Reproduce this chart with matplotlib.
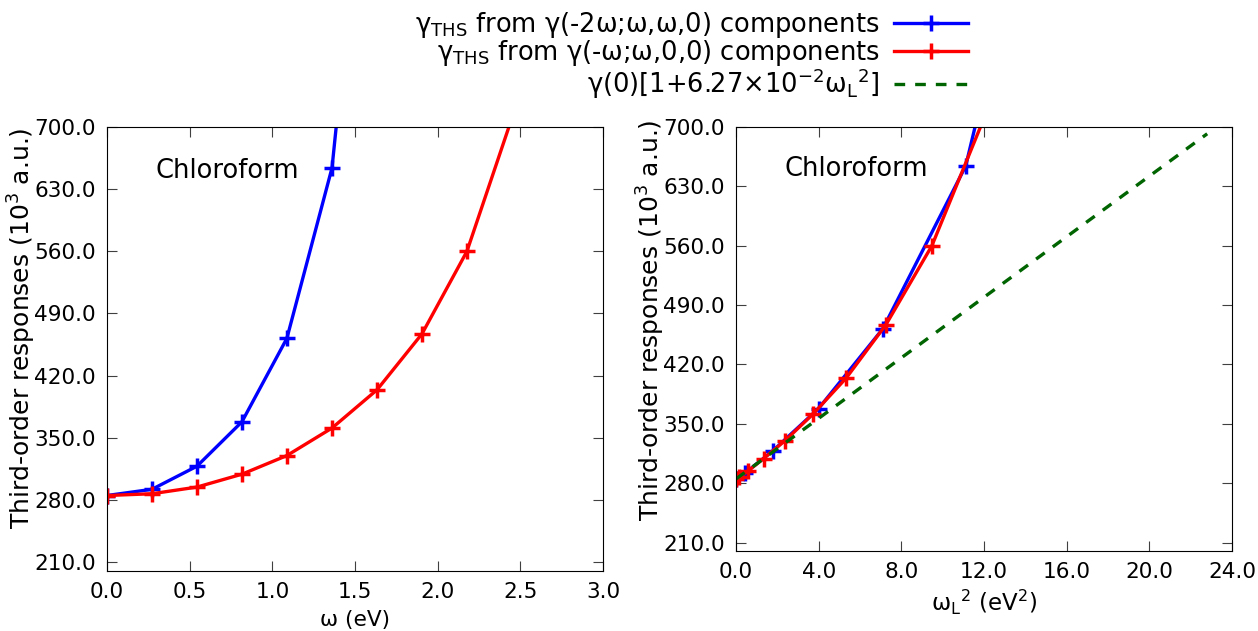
import matplotlib
matplotlib.use('Agg')
import matplotlib.pyplot as plt
import numpy as np

# ---- data ----
omega_blue = [0.0, 0.272, 0.544, 0.816, 1.088, 1.361, 1.633]          # eV
gamma_blue = [285, 292, 318, 368, 462, 654, 1150]                      # 10^3 a.u.
omega_red = [0.0, 0.272, 0.544, 0.816, 1.088, 1.361, 1.633, 1.905, 2.177, 2.449]
gamma_red = [285, 287, 294.5, 309, 330, 361, 404, 467, 560, 710]
fit_wL2 = [0.0, 22.8]
fit_gamma = [285, 692]

# omega_L^2 = sum of squared frequencies of the process
wL2_blue = [6 * w ** 2 for w in omega_blue]   # gamma(-2w;w,w,0)
wL2_red = [2 * w ** 2 for w in omega_red]     # gamma(-w;w,0,0)

yticks = [210, 280, 350, 420, 490, 560, 630, 700]
xticks_left = [0.0, 0.5, 1.0, 1.5, 2.0, 2.5, 3.0]
xticks_right = [0.0, 4.0, 8.0, 12.0, 16.0, 20.0, 24.0]

label_blue = r'γ$_{\mathregular{THS}}$ from γ(-2ω;ω,ω,0) components'
label_red = r'γ$_{\mathregular{THS}}$ from γ(-ω;ω,0,0) components'
label_fit = r'γ(0)[1+6.27×10$^{\mathregular{-2}}$ω$_{\mathregular{L}}$$^{\mathregular{2}}$]'

plt.rcParams['font.family'] = ['DejaVu Sans']
plt.rcParams['mathtext.fontset'] = 'dejavusans'
plt.rcParams['font.size'] = 15.6

W, H = 1258, 631
fig = plt.figure(figsize=(W / 100, H / 100), dpi=100)

def px_axes(x0, y0, x1, y1):
    return fig.add_axes([x0 / W, 1 - y1 / H, (x1 - x0) / W, (y1 - y0) / H])

axL = px_axes(107, 127, 603, 571)
axR = px_axes(736, 127, 1232, 551)

lw = 2.4
mk = dict(marker='+', markersize=11, markeredgewidth=2.5)

axL.plot(omega_blue, gamma_blue, color='#0000ff', lw=lw, **mk)
axL.plot(omega_red, gamma_red, color='#ff0000', lw=lw, **mk)

hb, = axR.plot(wL2_blue, gamma_blue, color='#0000ff', lw=lw, **mk)
hr, = axR.plot(wL2_red, gamma_red, color='#ff0000', lw=lw, **mk)
hg, = axR.plot(fit_wL2, fit_gamma, color='#006400', lw=lw, linestyle=(0, (3.2, 3.0)))

for ax, xt in ((axL, xticks_left), (axR, xticks_right)):
    ax.set_ylim(200, 700)
    ax.set_xlim(xt[0], xt[-1])
    ax.set_yticks(yticks)
    ax.set_xticks(xt)
    ax.set_yticklabels([f'{v:.1f}' for v in yticks])
    ax.set_xticklabels([f'{v:.1f}' for v in xt])
    ax.tick_params(direction='in', length=7, width=0.8, top=True, right=True,
                   pad=8, color='0.25')
    ax.set_ylabel('Third-order responses (10$^{\\mathregular{3}}$ a.u.)', fontsize=18)
    ax.text(0.098, 0.9, 'Chloroform', transform=ax.transAxes, fontsize=18.5,
            va='center', ha='left')

axL.yaxis.set_label_coords(-0.139, 0.547)
axR.yaxis.set_label_coords(-0.139, 0.545)
axL.set_xlabel('ω (eV)', labelpad=6)
axR.set_xlabel(r'ω$_{\mathregular{L}}$$^{\mathregular{2}}$ (eV$^{\mathregular{2}}$)', labelpad=4,
               fontsize=16.5)

fig.legend([hb, hr, hg], [label_blue, label_red, label_fit],
           loc='upper right', bbox_to_anchor=(981 / W, 1 + 3 / H),
           frameon=False, markerfirst=False, borderpad=0,
           handlelength=2.9, handletextpad=0.55, labelspacing=-0.07,
           fontsize=18.5)

fig.savefig('out.png', dpi=100)
